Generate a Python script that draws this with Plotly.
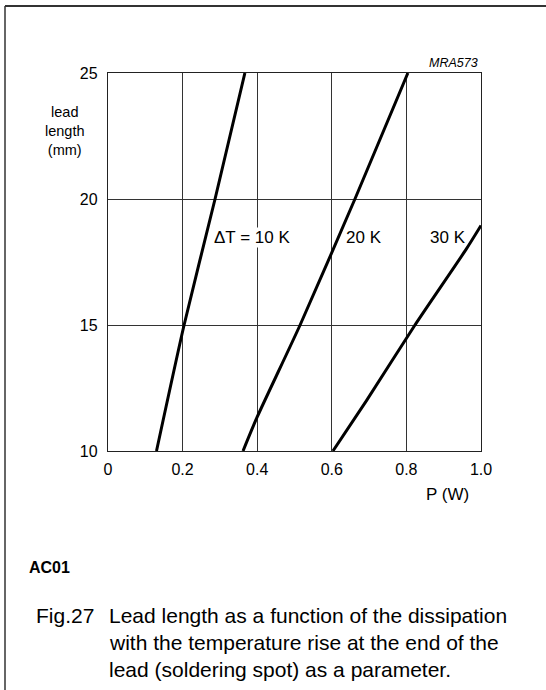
import plotly.graph_objects as go

# ---- data ----
p_10K = [0.130, 0.204, 0.287, 0.367]
l_10K = [10, 15, 20, 25]
p_20K = [0.362, 0.400, 0.515, 0.662, 0.804]
l_20K = [10, 11.35, 15, 20, 25]
p_30K = [0.603, 0.693, 0.823, 0.960, 1.0]
l_30K = [10, 12.0, 15, 18.0, 18.95]

curve_labels = ["\u0394T = 10 K", "20 K", "30 K"]
label_p = [0.282, 0.635, 0.860]
label_l = [18.49, 18.49, 18.49]

x_ticks = [0, 0.2, 0.4, 0.6, 0.8, 1.0]
x_ticktext = ["0", "0.2", "0.4", "0.6", "0.8", "1.0"]
y_ticks = [10, 15, 20, 25]
y_ticktext = ["10", "15", "20", "25"]

W, H = 546, 690
L, R, T, B = 108, 481, 73, 451
FONT = "Liberation Sans, Arial, sans-serif"


def px(x):
    return (x - L) / (R - L)


def py(y):
    return (B - y) / (B - T)


fig = go.Figure()
for p, l in [(p_10K, l_10K), (p_20K, l_20K), (p_30K, l_30K)]:
    fig.add_trace(go.Scatter(x=p, y=l, mode="lines",
                             line=dict(color="black", width=3, shape="spline", smoothing=0.6),
                             showlegend=False, hoverinfo="skip"))

for t, xv, yv in zip(curve_labels, label_p, label_l):
    fig.add_annotation(x=xv, y=yv, xref="x", yref="y", text=t, showarrow=False,
                       xanchor="left", yanchor="middle",
                       font=dict(family=FONT, size=17, color="black"),
                       bgcolor="white" if t.startswith("\u0394") else None, borderpad=0)

axis_common = dict(showgrid=True, gridcolor="#333333", gridwidth=1,
                   showline=True, linecolor="#222222", linewidth=1.3, mirror=True,
                   zeroline=False, ticks="", tickfont=dict(family=FONT, size=16, color="black"),
                   fixedrange=True)

fig.update_xaxes(range=[0, 1], tickvals=x_ticks, ticktext=x_ticktext, ticklabelstandoff=4, **axis_common)
fig.update_yaxes(range=[10, 25], tickvals=y_ticks, ticktext=y_ticktext, ticklabelstandoff=6, **axis_common)

# Axis titles and texts
fig.add_annotation(x=px(65), y=py(131), xref="paper", yref="paper",
                   text="lead<br>length<br>(mm)", showarrow=False, align="center",
                   xanchor="center", yanchor="middle",
                   font=dict(family=FONT, size=14.5, color="black"))
fig.add_annotation(x=px(447), y=py(495), xref="paper", yref="paper",
                   text="P (W)", showarrow=False, xanchor="center", yanchor="middle",
                   font=dict(family=FONT, size=17, color="black"))
fig.add_annotation(x=px(480), y=py(63), xref="paper", yref="paper",
                   text="<i>MRA573</i>", showarrow=False, xanchor="right", yanchor="middle",
                   font=dict(family=FONT, size=12.5, color="black"))
fig.add_annotation(x=px(27), y=py(567), xref="paper", yref="paper",
                   text="<b>AC01</b>", showarrow=False, xanchor="left", yanchor="middle",
                   font=dict(family=FONT, size=16, color="black"))
fig.add_annotation(x=px(34), y=py(615), xref="paper", yref="paper",
                   text="Fig.27", showarrow=False, xanchor="left", yanchor="middle",
                   font=dict(family=FONT, size=21, color="black"))
caption = ["Lead length as a function of the dissipation",
           "with the temperature rise at the end of the",
           "lead (soldering spot) as a parameter."]
for i, line in enumerate(caption):
    fig.add_annotation(x=px(107), y=py(615 + 27 * i), xref="paper", yref="paper",
                       text=line, showarrow=False, xanchor="left", yanchor="middle",
                       font=dict(family=FONT, size=21, color="black"))

# outer frame (top and left edges)
fig.add_shape(type="line", xref="paper", yref="paper", x0=px(5), x1=px(546), y0=py(6), y1=py(6),
              line=dict(color="#333333", width=2))
fig.add_shape(type="line", xref="paper", yref="paper", x0=px(5), x1=px(5), y0=py(6), y1=py(690),
              line=dict(color="#333333", width=1.5))

fig.update_layout(width=W, height=H, margin=dict(l=L, r=W - R, t=T, b=H - B),
                  paper_bgcolor="white", plot_bgcolor="white", showlegend=False)

fig.write_html("out.html", config={"displayModeBar": False},
               post_script="document.body.style.margin='0';document.body.style.overflow='hidden';")
